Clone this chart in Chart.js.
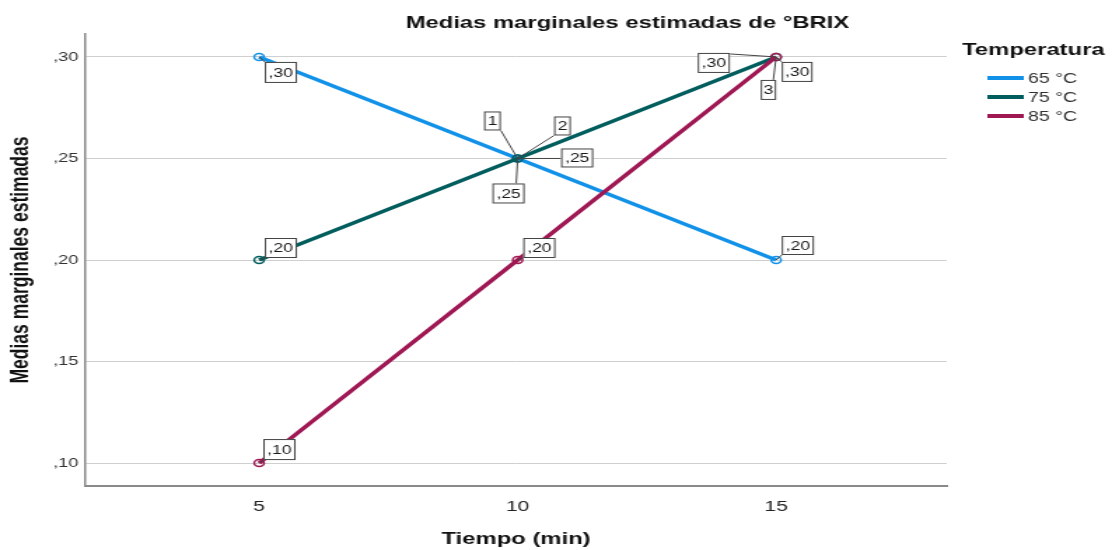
<!DOCTYPE html>
<html>
<head>
<meta charset="utf-8">
<script src="https://cdn.jsdelivr.net/npm/chart.js@4.4.1/dist/chart.umd.min.js"></script>
<style>
html, body { margin: 0; padding: 0; background: #fff; overflow: hidden; }
/* the reference is stretched sideways, so the chart is drawn narrow and widened */
#wrap { width: 794px; height: 550px; transform: scaleX(1.4005); transform-origin: 0 0; }
</style>
</head>
<body>
<div id="wrap"><canvas id="myChart"></canvas></div>
<script>
// datos
const tiempo = [5, 10, 15];
const temperaturas = ["65 °C", "75 °C", "85 °C"];
const medias65 = [0.30, 0.25, 0.20];
const medias75 = [0.20, 0.25, 0.30];
const medias85 = [0.10, 0.20, 0.30];
const ticksY = [0.10, 0.15, 0.20, 0.25, 0.30];
const colores = ["#1192e8", "#005d5d", "#9f1853"];

function coma(v) {
    return "," + v.toFixed(2).slice(2);
}

// etiquetas de los puntos (posicion relativa al punto)
const etiquetas = [
    { ds: 0, i: 0, dx: 4, dy: 5, w: 23, h: 21, ax: 0, ay: 0 },
    { ds: 1, i: 0, dx: 4, dy: -22, w: 23, h: 20, ax: 0, ay: 20 },
    { ds: 2, i: 0, dx: 3, dy: -24, w: 23, h: 21, ax: 0, ay: 21 },
    { ds: 2, i: 1, dx: 4, dy: -22, w: 23, h: 20, ax: 0, ay: 20 },
    { ds: 0, i: 2, dx: 4, dy: -24, w: 23, h: 19, ax: 0, ay: 19 },
    { ds: 0, i: 1, txt: "1", dx: -24, dy: -47, w: 12, h: 19, ax: 12, ay: 19 },
    { ds: 1, i: 1, txt: "2", dx: 26, dy: -42, w: 12, h: 19, ax: 0, ay: 19 },
    { ds: 0, i: 1, dx: 31, dy: -10, w: 23, h: 19, ax: 0, ay: 10 },
    { ds: 1, i: 1, dx: -18, dy: 25, w: 23, h: 20, ax: 17, ay: 0 },
    { ds: 1, i: 2, dx: -56, dy: -4, w: 23, h: 20, ax: 23, ay: 1 },
    { ds: 2, i: 2, dx: 4, dy: 5, w: 22, h: 20, ax: 0, ay: 0 },
    { ds: 2, i: 2, txt: "3", dx: -11, dy: 23, w: 11, h: 20, ax: 9, ay: 0 }
];

const extras = {
    id: "extras",
    afterDatasetsDraw(chart) {
        const ctx = chart.ctx;
        ctx.save();
        ctx.font = "12.5px 'Liberation Sans', Arial, sans-serif";
        ctx.textAlign = "center";
        ctx.textBaseline = "middle";
        etiquetas.forEach(e => {
            const p = chart.getDatasetMeta(e.ds).data[e.i];
            const bx = p.x + e.dx, by = p.y + e.dy;
            ctx.strokeStyle = "#444";
            ctx.lineWidth = 1;
            ctx.beginPath();
            ctx.moveTo(p.x, p.y);
            ctx.lineTo(bx + e.ax, by + e.ay);
            ctx.stroke();
            ctx.fillStyle = "#fff";
            ctx.fillRect(bx, by, e.w, e.h);
            ctx.strokeStyle = "#444";
            ctx.strokeRect(bx + 0.5, by + 0.5, e.w - 1, e.h - 1);
            ctx.fillStyle = "#1a1a1a";
            const t = e.txt || coma(chart.data.datasets[e.ds].data[e.i].y);
            ctx.fillText(t, bx + e.w / 2, by + e.h / 2 + 1);
        });
        ctx.restore();
    },
    afterDraw(chart) {
        const ctx = chart.ctx;
        ctx.save();
        ctx.fillStyle = "#111";
        ctx.textBaseline = "middle";
        ctx.textAlign = "center";
        ctx.font = "bold 17px 'Liberation Sans', Arial, sans-serif";
        ctx.fillText("Medias marginales estimadas de °BRIX", 448, 23);
        // leyenda
        ctx.textAlign = "left";
        ctx.fillText("Temperatura", 687, 50);
        ctx.font = "14px 'Liberation Sans', Arial, sans-serif";
        const ys = [78, 97, 116];
        chart.data.datasets.forEach((d, k) => {
            ctx.strokeStyle = d.borderColor;
            ctx.lineWidth = 4;
            ctx.beginPath();
            ctx.moveTo(705, ys[k]);
            ctx.lineTo(731, ys[k]);
            ctx.stroke();
            ctx.fillStyle = "#333";
            ctx.fillText(d.label, 734, ys[k] + 1);
        });
        ctx.restore();
    }
};

const series = [medias65, medias75, medias85];
const ctx = document.getElementById("myChart").getContext("2d");
const myChart = new Chart(ctx, {
    type: "line",
    data: {
        datasets: series.map((s, k) => ({
            label: temperaturas[k],
            data: s.map((v, j) => ({ x: tiempo[j], y: v })),
            borderColor: colores[k],
            backgroundColor: colores[k],
            borderWidth: 3.5,
            pointRadius: 3.5,
            pointBorderWidth: 1.5,
            pointBackgroundColor: "rgba(255,255,255,0)",
            pointBorderColor: colores[k],
            tension: 0,
            order: 3 - k
        }))
    },
    options: {
        responsive: true,
        maintainAspectRatio: false,
        animation: false,
        layout: { padding: { top: 34, right: 118, left: 0, bottom: 0 } },
        plugins: {
            legend: { display: false },
            title: { display: false },
            tooltip: { enabled: false }
        },
        scales: {
            x: {
                type: "linear",
                min: 1.64,
                max: 18.3,
                afterBuildTicks: s => { s.ticks = tiempo.map(v => ({ value: v })); },
                afterFit: s => { s.height = 64; },
                grid: { display: false, drawTicks: false },
                border: { color: "#8a8a8a", width: 2 },
                ticks: {
                    color: "#222",
                    padding: 12,
                    font: { family: "'Liberation Sans', Arial, sans-serif", size: 15 }
                },
                title: {
                    display: true,
                    text: "Tiempo (min)",
                    color: "#111",
                    padding: { top: 0, bottom: 0 },
                    font: { family: "'Liberation Sans', Arial, sans-serif", size: 17, weight: "bold" }
                }
            },
            y: {
                min: 0.0887,
                max: 0.3113,
                afterBuildTicks: s => { s.ticks = ticksY.map(v => ({ value: v })); },
                afterFit: s => { s.width = 61; },
                grid: { color: "#cfcfcf", lineWidth: 1, drawTicks: false },
                border: { color: "#8a8a8a", width: 1.5 },
                ticks: {
                    color: "#333",
                    padding: 5,
                    callback: v => coma(v),
                    font: { family: "'Liberation Sans', Arial, sans-serif", size: 13 }
                },
                title: {
                    display: true,
                    text: "Medias marginales estimadas",
                    color: "#111",
                    padding: { top: 5, bottom: 0 },
                    font: { family: "'Liberation Sans', Arial, sans-serif", size: 17.5, weight: "bold" }
                }
            }
        }
    },
    plugins: [extras]
});
</script>
</body>
</html>
